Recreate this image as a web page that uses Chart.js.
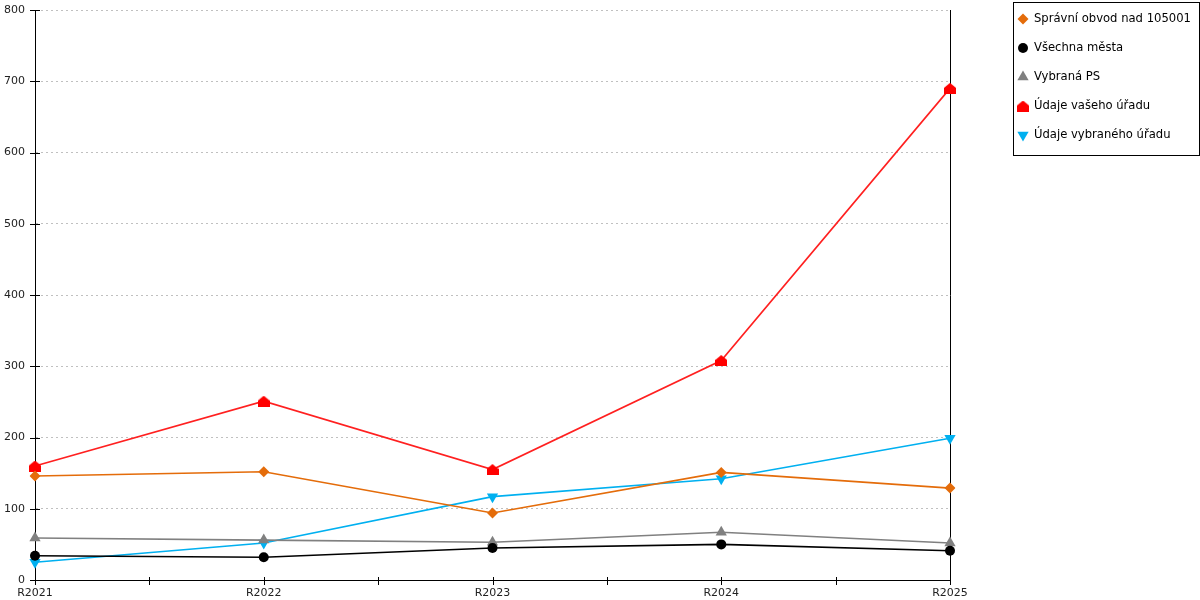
<!DOCTYPE html>
<html>
<head>
<meta charset="utf-8">
<script src="https://cdn.jsdelivr.net/npm/chart.js@4/dist/chart.umd.min.js"></script>
<style>
html,body{margin:0;padding:0;background:#fff;}
#wrap{width:1200px;height:600px;position:relative;}
</style>
</head>
<body>
<div id="wrap"><canvas id="c" width="1200" height="600"></canvas></div>
<script>
const categories = ['R2021','R2022','R2023','R2024','R2025'];
const seriesLabels = ['Správní obvod nad 105001','Všechna města','Vybraná PS','Údaje vašeho úřadu','Údaje vybraného úřadu'];
const spravniObvod = [146,152,94,151,129];
const vsechnaMesta = [34,32,45,50,41];
const vybranaPS = [59,56,53,67,52];
const udajeVaseho = [160,251,155,308,690];
const udajeVybraneho = [25,52,117,142,199];
const yTicks = [0,100,200,300,400,500,600,700,800];

const FONT = 'DejaVu Sans';

function makeHouse(color){
  const cv = document.createElement('canvas');
  cv.width = 12; cv.height = 11;
  const g = cv.getContext('2d');
  g.fillStyle = color;
  g.beginPath();
  g.moveTo(6,0); g.lineTo(12,5); g.lineTo(12,11); g.lineTo(0,11); g.lineTo(0,5); g.closePath();
  g.fill();
  return cv;
}
const house = makeHouse('#ff0000');

const styles = [
  {color:'#e46c0a', pointStyle:'rectRot', radius:5.5, rotation:0},
  {color:'#000000', pointStyle:'circle', radius:5, rotation:0},
  {color:'#808080', pointStyle:'triangle', radius:6.5, rotation:0},
  {color:'#ff0000', line:'#ff2020', pointStyle:house, radius:6, rotation:0},
  {color:'#00b0f0', pointStyle:'triangle', radius:6.5, rotation:180}
];
const values = [spravniObvod, vsechnaMesta, vybranaPS, udajeVaseho, udajeVybraneho];

const datasets = values.map((v,i)=>({
  label: seriesLabels[i],
  data: v,
  borderColor: styles[i].line || styles[i].color,
  backgroundColor: styles[i].color,
  pointBackgroundColor: styles[i].color,
  pointBorderColor: styles[i].color,
  pointBorderWidth: 0,
  pointStyle: styles[i].pointStyle,
  pointRadius: styles[i].radius,
  pointHoverRadius: styles[i].radius,
  pointRotation: styles[i].rotation,
  borderWidth: 1.6,
  tension: 0,
  fill: false
}));

function drawMarker(ctx, st, x, y){
  ctx.save();
  ctx.fillStyle = st.color;
  ctx.translate(x,y);
  ctx.rotate(st.rotation*Math.PI/180);
  const r = st.radius;
  ctx.beginPath();
  if (st.pointStyle instanceof HTMLCanvasElement){
    ctx.drawImage(st.pointStyle, -st.pointStyle.width/2, -st.pointStyle.height/2);
  } else if (st.pointStyle==='rectRot'){
    ctx.moveTo(0,-r); ctx.lineTo(r,0); ctx.lineTo(0,r); ctx.lineTo(-r,0); ctx.closePath(); ctx.fill();
  } else if (st.pointStyle==='circle'){
    ctx.arc(0,0,r,0,Math.PI*2); ctx.fill();
  } else if (st.pointStyle==='triangle'){
    for (let k=0;k<3;k++){
      const a = k*2*Math.PI/3;
      const px = Math.sin(a)*r, py = -Math.cos(a)*r;
      if(k===0) ctx.moveTo(px,py); else ctx.lineTo(px,py);
    }
    ctx.closePath(); ctx.fill();
  }
  ctx.restore();
}

const extras = {
  id:'extras',
  afterDraw(chart){
    const ctx = chart.ctx;
    const xs = chart.scales.x, ys = chart.scales.y;
    const area = chart.chartArea;
    ctx.save();
    ctx.strokeStyle = '#000'; ctx.lineWidth = 1;
    for (let i=0;i<=(categories.length-1)*2;i++){
      const px = Math.round(xs.getPixelForValue(i/2))+0.5;
      ctx.beginPath(); ctx.moveTo(px, area.bottom-3); ctx.lineTo(px, area.bottom+5); ctx.stroke();
    }
    yTicks.forEach(v=>{
      const py = Math.round(ys.getPixelForValue(v))+0.5;
      ctx.beginPath(); ctx.moveTo(area.left-5, py); ctx.lineTo(area.left+5, py); ctx.stroke();
    });
    ctx.strokeRect(1013.5, 2.5, 186, 153);
    ctx.font = '11.6px "'+FONT+'"';
    ctx.fillStyle = '#000';
    ctx.textBaseline = 'middle';
    ctx.textAlign = 'left';
    chart.data.datasets.forEach((ds,i)=>{
      const y = 19 + i*29;
      drawMarker(ctx, styles[i], 1023, y);
      ctx.fillStyle = '#000';
      ctx.fillText(ds.label, 1034, y);
    });
    ctx.restore();
  }
};

new Chart(document.getElementById('c'), {
  type:'line',
  data:{ labels: categories, datasets },
  options:{
    responsive:false,
    animation:false,
    devicePixelRatio:1,
    layout:{ padding:{ top:10, right:250, left:0, bottom:0 } },
    plugins:{ legend:{ display:false }, tooltip:{ enabled:false } },
    scales:{
      x:{
        type:'category',
        offset:false,
        grid:{ display:false, drawTicks:false },
        border:{ display:true, color:'#000', width:1 },
        ticks:{ font:{ family:FONT, size:11 }, color:'#222', padding:7, maxRotation:0, autoSkip:false },
        afterFit(s){ s.height = 20; s.paddingLeft = 0; s.paddingRight = 0; }
      },
      y:{
        min:0, max:800,
        afterBuildTicks(s){ s.ticks = yTicks.map(v=>({value:v})); },
        grid:{ display:true, color:'#c0c0c0', lineWidth:1, drawTicks:false },
        border:{ display:true, color:'#000', width:1, dash:[2,3] },
        ticks:{ font:{ family:FONT, size:11 }, color:'#222', padding:10 },
        afterFit(s){ s.width = 35; s.paddingTop = 0; s.paddingBottom = 0; }
      },
      y2:{
        position:'right',
        min:0, max:800,
        grid:{ display:false, drawTicks:false },
        border:{ display:true, color:'#000', width:1 },
        ticks:{ display:false },
        afterFit(s){ s.width = 0; s.paddingTop = 0; s.paddingBottom = 0; }
      }
    }
  },
  plugins:[extras]
});
</script>
</body>
</html>
